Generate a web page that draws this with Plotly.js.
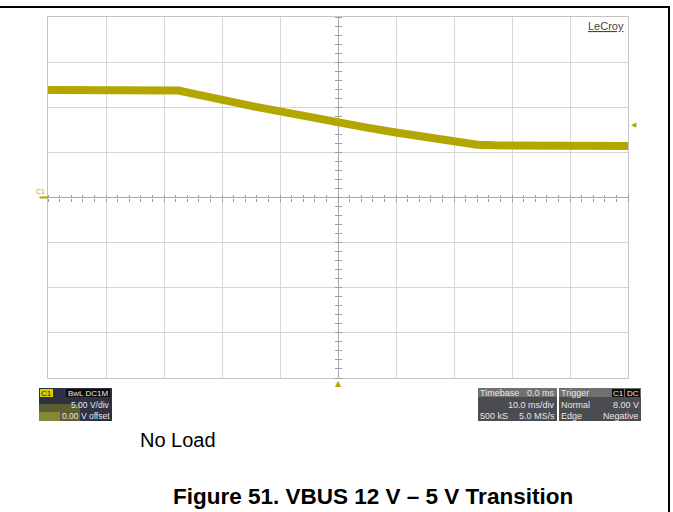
<!DOCTYPE html>
<html>
<head>
<meta charset="utf-8">
<script src="https://cdn.plot.ly/plotly-3.0.1.min.js"></script>
<style>
html,body{margin:0;padding:0;background:#fff;}
#chart{width:673px;height:512px;}
</style>
</head>
<body>
<div id="chart"></div>
<script>
// Trace: time (ms) vs VBUS (V)
const timeMs = [-50, -40, -30, -27.5, -25, -20, -15, -10, -5, 0, 5, 10, 15, 20, 24, 27, 30, 40, 50];
const voltsV = [11.9, 11.9, 11.88, 11.85, 11.5, 10.75, 10.15, 9.55, 8.9, 8.3, 7.75, 7.2, 6.7, 6.2, 5.85, 5.78, 5.76, 5.75, 5.72];

const xRange = [-50, 50];   // 10 ms/div, 10 divisions
const yRange = [-20, 20];   // 5 V/div, 8 divisions
const triggerLevel = 8.0;

const traceColor = '#b4a600';

// plot area geometry in pixels
const L = 48, R = 45, T = 17, B = 134;
const W = 673 - L - R, H = 512 - T - B;
const px = p => (p - L) / W;
const py = p => (512 - B - p) / H;

const font = 'Liberation Sans, Arial, sans-serif';

const data = [
  {x: timeMs, y: voltsV, type: 'scatter', mode: 'lines',
   line: {color: traceColor, width: 8}, hoverinfo: 'skip', xaxis: 'x', yaxis: 'y'},
  {x: [], y: [], xaxis: 'x2', yaxis: 'y', hoverinfo: 'skip', showlegend: false},
  {x: [], y: [], xaxis: 'x3', yaxis: 'y', hoverinfo: 'skip', showlegend: false},
  {x: [], y: [], xaxis: 'x', yaxis: 'y2', hoverinfo: 'skip', showlegend: false},
  {x: [], y: [], xaxis: 'x', yaxis: 'y3', hoverinfo: 'skip', showlegend: false}
];

const minorAxisX = side => ({overlaying: 'x', anchor: 'free', position: 0.5, side: side,
  range: xRange, tick0: 0, dtick: 2, ticks: 'outside', ticklen: 3, tickcolor: '#9a9a9a',
  showticklabels: false, showgrid: false, zeroline: false, showline: false, fixedrange: true});
const minorAxisY = side => ({overlaying: 'y', anchor: 'free', position: 0.5, side: side,
  range: yRange, tick0: 0, dtick: 1, ticks: 'outside', ticklen: 3, tickcolor: '#9a9a9a',
  showticklabels: false, showgrid: false, zeroline: false, showline: false, fixedrange: true});

function rect(x0, y0, x1, y1, color, extra) {
  return Object.assign({type: 'rect', xref: 'paper', yref: 'paper',
    x0: px(x0), x1: px(x1), y0: py(y1), y1: py(y0),
    fillcolor: color, line: {width: 0}, layer: 'above'}, extra || {});
}
function lineShape(x0, y0, x1, y1, color, w) {
  return {type: 'line', xref: 'paper', yref: 'paper', x0: px(x0), x1: px(x1), y0: py(y0), y1: py(y1),
    line: {color: color, width: w}, layer: 'above'};
}
function txt(text, x, y, anchor, size, color) {
  return {text: text, xref: 'paper', yref: 'paper', x: px(x), y: py(y),
    xanchor: anchor, yanchor: 'middle', showarrow: false, borderpad: 0,
    font: {family: font, size: size, color: color}};
}

const infoCol = '#e6e6e6';
const shapes = [
  // outer page frame
  lineShape(0, 7, 670, 7, '#000', 2),
  lineShape(669, 7, 669, 512, '#000', 2),
  // channel box
  rect(39, 388, 112, 421, '#2d3142'),
  rect(39, 404, 80, 421, '#6e6e2c', {opacity: 0.75}),
  rect(39, 412, 60, 421, '#9a9a38', {opacity: 0.7}),
  rect(40, 389, 53, 397, '#d8d000'),
  rect(66, 389, 110, 397, '#0d0d0d'),
  // timebase box
  rect(478, 388, 557, 421, '#4b4b52'),
  rect(478, 388, 557, 397, '#707070'),
  // trigger box
  rect(559, 388, 641, 421, '#4b4b52'),
  rect(559, 388, 641, 397, '#707070'),
  rect(612, 389, 624, 397, '#0d0d0d'),
  rect(625, 389, 640, 397, '#0d0d0d')
];

const annotations = [
  {text: '<u>LeCroy</u>', xref: 'paper', yref: 'paper', x: 1, y: 1, xanchor: 'right', yanchor: 'top',
   xshift: -2, yshift: -1, showarrow: false, font: {family: font, size: 11, color: '#444'}},
  // channel offset marker
  {text: '', x: xRange[0], y: 0, xref: 'x', yref: 'y', showarrow: true, arrowhead: 0,
   ax: -10, ay: 0, arrowcolor: traceColor, arrowwidth: 2, standoff: 0},
  {text: 'C1', x: xRange[0], y: 0, xref: 'x', yref: 'y', xanchor: 'right', yanchor: 'bottom',
   xshift: -1, yshift: 1, showarrow: false, font: {family: font, size: 7, color: traceColor}},
  // trigger position marker (bottom) and trigger level marker (right)
  {text: '▲', x: 0, y: yRange[0], xref: 'x', yref: 'y', xanchor: 'center', yanchor: 'top',
   yshift: 1, showarrow: false, font: {family: 'DejaVu Sans', size: 8, color: traceColor}},
  {text: '◀', x: xRange[1], y: triggerLevel, xref: 'x', yref: 'y', xanchor: 'left', yanchor: 'middle',
   xshift: 1, showarrow: false, font: {family: 'DejaVu Sans', size: 7, color: traceColor}},
  // channel box text
  txt('C1', 46.5, 393, 'center', 8, '#222'),
  txt('BwL DC1M', 109, 393, 'right', 8, infoCol),
  txt('5.00 V/div', 111, 404.5, 'right', 8.5, infoCol),
  txt('0.00 V offset', 111, 415.5, 'right', 8.5, infoCol),
  // timebase box text
  txt('Timebase', 479, 393, 'left', 9, infoCol),
  txt('0.0 ms', 556, 393, 'right', 9, infoCol),
  txt('10.0 ms/div', 556, 404.5, 'right', 9, infoCol),
  txt('500 kS', 479, 415.5, 'left', 9, infoCol),
  txt('5.0 MS/s', 556, 415.5, 'right', 9, infoCol),
  // trigger box text
  txt('Trigger', 560, 393, 'left', 9, infoCol),
  txt('C1', 618, 393, 'center', 8, infoCol),
  txt('DC', 632.5, 393, 'center', 8, infoCol),
  txt('Normal', 560, 404.5, 'left', 9, infoCol),
  txt('8.00 V', 640, 404.5, 'right', 9, infoCol),
  txt('Edge', 560, 415.5, 'left', 9, infoCol),
  txt('Negative', 640, 415.5, 'right', 9, infoCol),
  // caption texts
  txt('No Load', 139, 440, 'left', 20, '#000'),
  txt('<b>Figure 51. VBUS 12 V – 5 V Transition</b>', 172, 496, 'left', 22.5, '#000')
];

const layout = {
  width: 673, height: 512,
  margin: {l: L, r: R, t: T, b: B, pad: 0},
  paper_bgcolor: '#ffffff', plot_bgcolor: '#ffffff',
  showlegend: false,
  xaxis: {range: xRange, dtick: 10, tick0: 0, showgrid: true, gridcolor: '#d6d6d6', gridwidth: 1,
    zeroline: true, zerolinecolor: '#a8a8a8', zerolinewidth: 1,
    showline: true, mirror: true, linecolor: '#c4c4c4', linewidth: 1,
    showticklabels: false, ticks: '', fixedrange: true},
  yaxis: {range: yRange, dtick: 5, tick0: 0, showgrid: true, gridcolor: '#d6d6d6', gridwidth: 1,
    zeroline: true, zerolinecolor: '#a8a8a8', zerolinewidth: 1,
    showline: true, mirror: true, linecolor: '#c4c4c4', linewidth: 1,
    showticklabels: false, ticks: '', fixedrange: true},
  xaxis2: minorAxisX('bottom'),
  xaxis3: minorAxisX('top'),
  yaxis2: minorAxisY('left'),
  yaxis3: minorAxisY('right'),
  shapes: shapes,
  annotations: annotations
};

Plotly.newPlot('chart', data, layout, {displayModeBar: false, staticPlot: true});
</script>
</body>
</html>
